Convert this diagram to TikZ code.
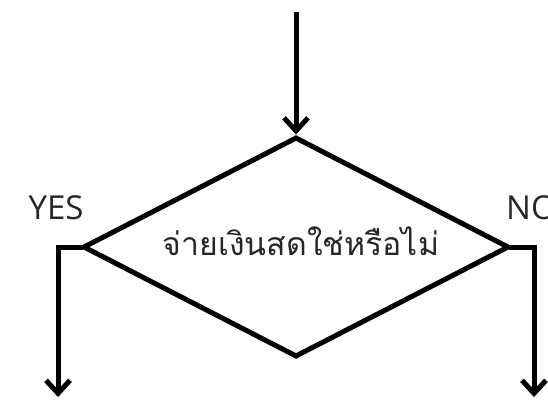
\documentclass[tikz,border=0pt]{standalone}
\usepackage{fontspec}
\setmainfont{Open Sans}
\newfontfamily\thaifont[Script=Thai]{Loma}
\usetikzlibrary{shapes.geometric,arrows.meta}
\tikzset{
  flow/.style={line width=5pt, -{Straight Barb[length=13pt,width=24pt,line width=5pt]}},
  edge/.style={line width=5pt},
  decision/.style={diamond, draw, line width=5pt, minimum width=426pt, minimum height=220pt, inner sep=0pt},
  lbl/.style={font=\fontsize{33}{38}\selectfont, text=black!85, inner sep=0pt}
}
\begin{document}
\begin{tikzpicture}[x=1pt,y=-1pt]
\useasboundingbox (0,0) rectangle (548,400);
\clip (0,0) rectangle (548,400);
\node[decision] (d) at (296,247) {};
\node[lbl, font=\thaifont\fontsize{32}{36}\selectfont] (q) at (301,241) {จ่ายเงินสดใช่หรือไม่};
\coordinate (start) at (296,12);
\coordinate (lc) at (58,247);
\coordinate (lend) at (58,397);
\coordinate (rc) at (534,247);
\coordinate (rend) at (534,397);
\draw[flow] (start) -- (d.north);
\draw[edge, line cap=rect] (d.west) -- (lc);
\draw[flow] (lc) -- (lend);
\draw[edge, line cap=rect] (d.east) -- (rc);
\draw[flow] (rc) -- (rend);
\node[lbl] (yes) at (56,208) {YES};
\node[lbl, anchor=west] (no) at (506,208) {NO};
\end{tikzpicture}
\end{document}
